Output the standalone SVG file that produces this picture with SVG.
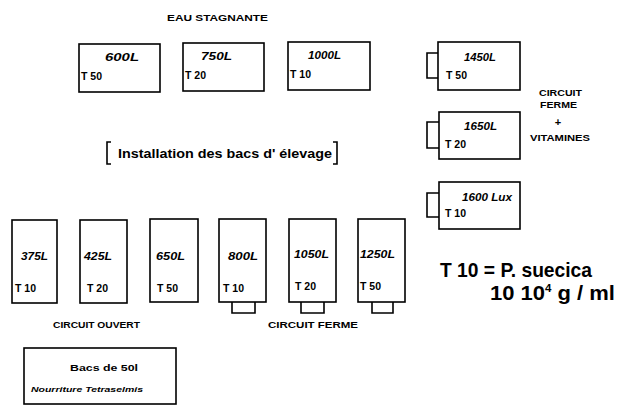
<svg xmlns="http://www.w3.org/2000/svg" width="618" height="406" viewBox="0 0 618 406">
<style>
text{font-family:"Liberation Sans",Arial,sans-serif;font-weight:bold;fill:#000}
.box{fill:none;stroke:#000;stroke-width:1.6}
.brk{fill:none;stroke:#000;stroke-width:1.6}
.lbl{font-size:10px;font-style:italic}
.t{font-size:10.5px}
.ttl{font-size:8.5px}
.big{font-size:21px}
</style>
<rect width="618" height="406" fill="#fff"/>
<text class="ttl" x="167" y="21" textLength="101" lengthAdjust="spacingAndGlyphs">EAU STAGNANTE</text>

<g id="b600"><rect class="box" x="79" y="44" width="81" height="48"/><text class="lbl" x="105" y="61" textLength="34" lengthAdjust="spacingAndGlyphs">600L</text><text class="t" x="81" y="80">T 50</text></g>
<g id="b750"><rect class="box" x="183" y="43" width="81" height="48"/><text class="lbl" x="201" y="60" textLength="31" lengthAdjust="spacingAndGlyphs">750L</text><text class="t" x="185" y="79">T 20</text></g>
<g id="b1000"><rect class="box" x="288" y="42" width="82" height="48"/><text class="lbl" x="308" y="59" textLength="33" lengthAdjust="spacingAndGlyphs">1000L</text><text class="t" x="290" y="78">T 10</text></g>

<g id="b1450"><rect class="box" x="438" y="42" width="82" height="48"/><path class="brk" d="M438,53 H427 V78 H438"/><text class="lbl" x="464" y="61" textLength="32" lengthAdjust="spacingAndGlyphs">1450L</text><text class="t" x="446" y="79">T 50</text></g>
<g id="b1650"><rect class="box" x="439" y="112" width="81" height="47"/><path class="brk" d="M439,122 H427 V148 H439"/><text class="lbl" x="464" y="130" textLength="33" lengthAdjust="spacingAndGlyphs">1650L</text><text class="t" x="445" y="148">T 20</text></g>
<g id="b1600"><rect class="box" x="439" y="182" width="81" height="47"/><path class="brk" d="M439,193 H427 V217 H439"/><text class="lbl" x="462" y="201" textLength="50" lengthAdjust="spacingAndGlyphs">1600 Lux</text><text class="t" x="445" y="217">T 10</text></g>

<g id="note-cf"><text class="ttl" x="539" y="96" textLength="43" lengthAdjust="spacingAndGlyphs">CIRCUIT</text><text class="ttl" x="540" y="108" textLength="37" lengthAdjust="spacingAndGlyphs">FERME</text><text x="558" y="126" font-size="11" text-anchor="middle">+</text><text class="ttl" x="530" y="141" textLength="60" lengthAdjust="spacingAndGlyphs">VITAMINES</text></g>

<g id="title"><path class="brk" d="M111,142 H107 V164 H111"/><path class="brk" d="M333,142 H337 V164 H333"/><text x="118" y="158" font-size="12.5" textLength="214" lengthAdjust="spacingAndGlyphs">Installation  des bacs  d' élevage</text></g>

<g id="b375"><rect class="box" x="12" y="220" width="45" height="83"/><text class="lbl" x="21" y="260" textLength="27" lengthAdjust="spacingAndGlyphs">375L</text><text class="t" x="15" y="292">T 10</text></g>
<g id="b425"><rect class="box" x="80" y="220" width="47" height="83"/><text class="lbl" x="84" y="260" textLength="28" lengthAdjust="spacingAndGlyphs">425L</text><text class="t" x="87" y="292">T 20</text></g>
<g id="b650"><rect class="box" x="150" y="219" width="48" height="83"/><text class="lbl" x="156" y="260" textLength="29" lengthAdjust="spacingAndGlyphs">650L</text><text class="t" x="157" y="292">T 50</text></g>
<g id="b800"><rect class="box" x="219" y="219" width="47" height="83"/><path class="brk" d="M232,302 V313 H255 V302"/><text class="lbl" x="228" y="260" textLength="30" lengthAdjust="spacingAndGlyphs">800L</text><text class="t" x="223" y="292">T 10</text></g>
<g id="b1050"><rect class="box" x="289" y="219" width="47" height="83"/><path class="brk" d="M301,302 V313 H324 V302"/><text class="lbl" x="294" y="258" textLength="35" lengthAdjust="spacingAndGlyphs">1050L</text><text class="t" x="295" y="290">T 20</text></g>
<g id="b1250"><rect class="box" x="358" y="219" width="47" height="83"/><path class="brk" d="M372,302 V313 H393 V302"/><text class="lbl" x="360" y="258" textLength="35" lengthAdjust="spacingAndGlyphs">1250L</text><text class="t" x="360" y="290">T 50</text></g>

<text class="ttl" x="53" y="328" textLength="87" lengthAdjust="spacingAndGlyphs">CIRCUIT OUVERT</text>
<text class="ttl" x="268" y="328" textLength="90" lengthAdjust="spacingAndGlyphs">CIRCUIT FERME</text>

<g id="bacs50"><rect class="box" x="24" y="348" width="152" height="56"/><text x="70" y="371" font-size="9" textLength="68" lengthAdjust="spacingAndGlyphs">Bacs de 50l</text><text x="31" y="392" font-size="6.5" font-style="italic" textLength="112" lengthAdjust="spacingAndGlyphs">Nourriture  Tetraselmis</text></g>

<g id="legend"><text class="big" x="440" y="277" textLength="152" lengthAdjust="spacingAndGlyphs">T 10 = P. suecica</text><text class="big" x="490" y="300" textLength="125" lengthAdjust="spacingAndGlyphs">10 10<tspan font-size="11" dy="-8">4</tspan><tspan dy="8"> g / ml</tspan></text></g>

<g id="connectors"/>
</svg>
